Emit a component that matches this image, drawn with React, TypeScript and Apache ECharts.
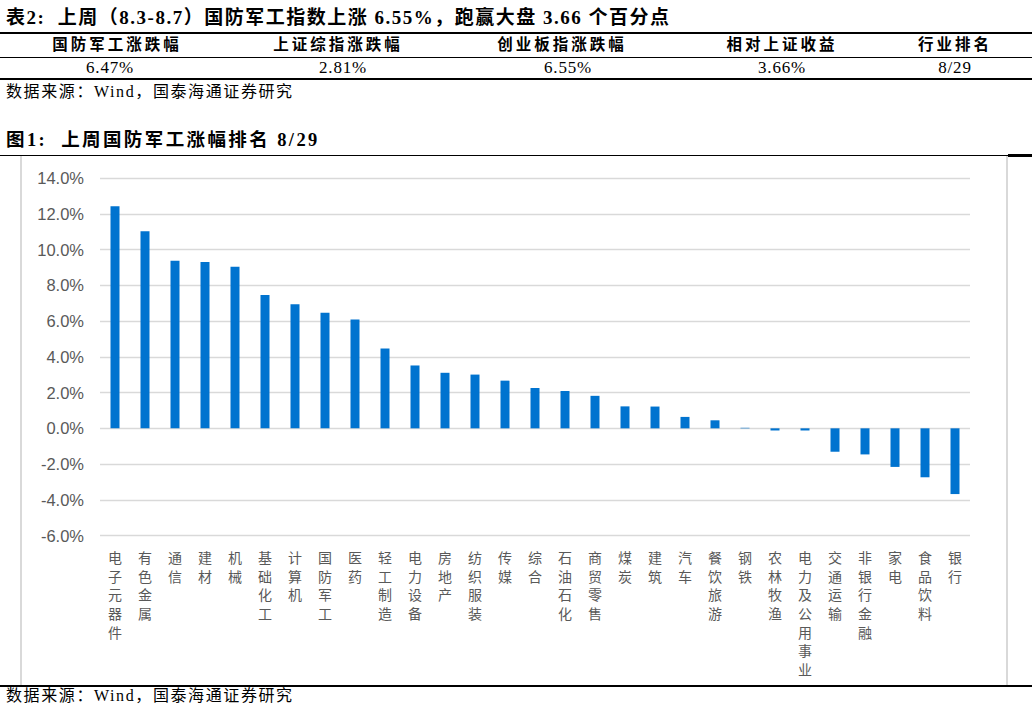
import React, { useEffect, useRef } from 'react';
import * as echarts from 'echarts';

// 行业名称（按涨幅排序）
const industries = [
  '电子元器件', '有色金属', '通信', '建材', '机械', '基础化工', '计算机', '国防军工', '医药', '轻工制造',
  '电力设备', '房地产', '纺织服装', '传媒', '综合', '石油石化', '商贸零售', '煤炭', '建筑', '汽车',
  '餐饮旅游', '钢铁', '农林牧渔', '电力及公用事业', '交通运输', '非银行金融', '家电', '食品饮料', '银行',
];

// 上周涨跌幅（%）
const weeklyChange = [
  12.43, 11.03, 9.39, 9.32, 9.05, 7.46, 6.95, 6.47, 6.09, 4.47,
  3.52, 3.11, 3.01, 2.67, 2.26, 2.09, 1.82, 1.23, 1.22, 0.64,
  0.45, 0.03, -0.12, -0.12, -1.31, -1.46, -2.16, -2.74, -3.68,
];

// 表格
const tableHeaders = ['国防军工涨跌幅', '上证综指涨跌幅', '创业板指涨跌幅', '相对上证收益', '行业排名'];
const tableValues = ['6.47%', '2.81%', '6.55%', '3.66%', '8/29'];
const headerCenters = [117, 338, 562, 782, 955];
const valueCenters = [110, 343, 568, 782, 955];

const CJK_BOLD = "'Liberation Serif', 'Noto Sans CJK SC', serif";

const ChartBox: React.FC = () => {
  const chartRef = useRef<HTMLDivElement | null>(null);

  useEffect(() => {
    const chart = echarts.init(chartRef.current!, undefined, { renderer: 'svg' });

    const option = {
      animation: false,
      grid: { left: 78, right: 36, top: 22.3, bottom: 149.5, containLabel: false },
      xAxis: {
        type: 'category',
        data: industries,
        axisLine: { show: false, onZero: false },
        axisTick: { show: false },
        axisLabel: {
          interval: 0,
          margin: 12,
          color: '#595959',
          fontSize: 14,
          lineHeight: 18.7,
          verticalAlign: 'top',
          fontFamily: "'Noto Sans CJK SC', sans-serif",
          formatter: (v: string) => v.split('').join('\n'),
        },
      },
      yAxis: {
        type: 'value',
        min: -6,
        max: 14,
        interval: 2,
        axisLine: { show: false },
        axisTick: { show: false },
        splitLine: { lineStyle: { color: '#d9d9d9', width: 1.3 } },
        axisLabel: {
          margin: 16,
          color: '#595959',
          fontSize: 16.5,
          fontFamily: "'Liberation Sans', Arial, sans-serif",
          formatter: (v: number) => v.toFixed(1) + '%',
        },
      },
      series: [
        {
          type: 'bar',
          data: weeklyChange,
          barWidth: 9,
          itemStyle: { color: '#0073CF' },
        },
      ],
    };

    chart.setOption(option);

    return () => {
      chart.dispose();
    };
  }, []);

  return <div ref={chartRef} style={{ width: '984px', height: '529px' }} />;
};

const App: React.FC = () => {
  const line = (top: number, h: number, left = 0, width = 1032) => (
    <div style={{ position: 'absolute', left, top, width, height: h, background: '#000' }} />
  );

  return (
    <div
      style={{
        position: 'absolute',
        left: 0,
        top: 0,
        width: 1032,
        height: 715,
        background: '#fff',
        overflow: 'hidden',
        color: '#000',
      }}
    >
      {/* 表2 标题 */}
      <div
        style={{
          position: 'absolute', left: 6, top: 6, height: 24, lineHeight: '24px', whiteSpace: 'pre',
          fontFamily: CJK_BOLD, fontWeight: 'bold', fontSize: 19, letterSpacing: 1.5,
        }}
      >
        {'表2:  上周（8.3-8.7）国防军工指数上涨 6.55%，跑赢大盘 3.66 个百分点'}
      </div>
      {line(31.5, 2)}
      {tableHeaders.map((t, i) => (
        <div
          key={t}
          style={{
            position: 'absolute', left: headerCenters[i] - 100, width: 200, top: 34, height: 22,
            lineHeight: '22px', textAlign: 'center', whiteSpace: 'nowrap',
            fontFamily: CJK_BOLD, fontWeight: 'bold', fontSize: 15.5, letterSpacing: 3,
          }}
        >
          {t}
        </div>
      ))}
      {line(57, 1)}
      {tableValues.map((t, i) => (
        <div
          key={t}
          style={{
            position: 'absolute', left: valueCenters[i] - 100, width: 200, top: 57, height: 21,
            lineHeight: '21px', textAlign: 'center', whiteSpace: 'nowrap',
            fontFamily: "'Liberation Serif', serif", fontSize: 17, letterSpacing: 0.8,
          }}
        >
          {t}
        </div>
      ))}
      {line(78, 2)}
      <div
        style={{
          position: 'absolute', left: 6, top: 81, height: 22, lineHeight: '22px', whiteSpace: 'nowrap',
          fontFamily: "'Liberation Serif', 'Noto Sans CJK SC', serif", fontSize: 16, letterSpacing: 1.6,
        }}
      >
        数据来源：Wind，国泰海通证券研究
      </div>

      {/* 图1 标题 */}
      <div
        style={{
          position: 'absolute', left: 6, top: 128, height: 24, lineHeight: '24px', whiteSpace: 'pre',
          fontFamily: CJK_BOLD, fontWeight: 'bold', fontSize: 18.5, letterSpacing: 2.4,
        }}
      >
        {'图1:  上周国防军工涨幅排名 8/29'}
      </div>
      {line(154.5, 1.5)}
      {line(154, 2.5, 1008, 24)}

      <div
        style={{
          position: 'absolute', left: 20, top: 156, width: 988, height: 529, boxSizing: 'border-box',
          borderLeft: '2px solid #d9d9d9', borderRight: '2px solid #d9d9d9',
        }}
      >
        <ChartBox />
      </div>
      {line(684.5, 2)}
      <div
        style={{
          position: 'absolute', left: 6, top: 685, height: 22, lineHeight: '22px', whiteSpace: 'nowrap',
          fontFamily: "'Liberation Serif', 'Noto Sans CJK SC', serif", fontSize: 16, letterSpacing: 1.6,
        }}
      >
        数据来源：Wind，国泰海通证券研究
      </div>
    </div>
  );
};

export default App;
